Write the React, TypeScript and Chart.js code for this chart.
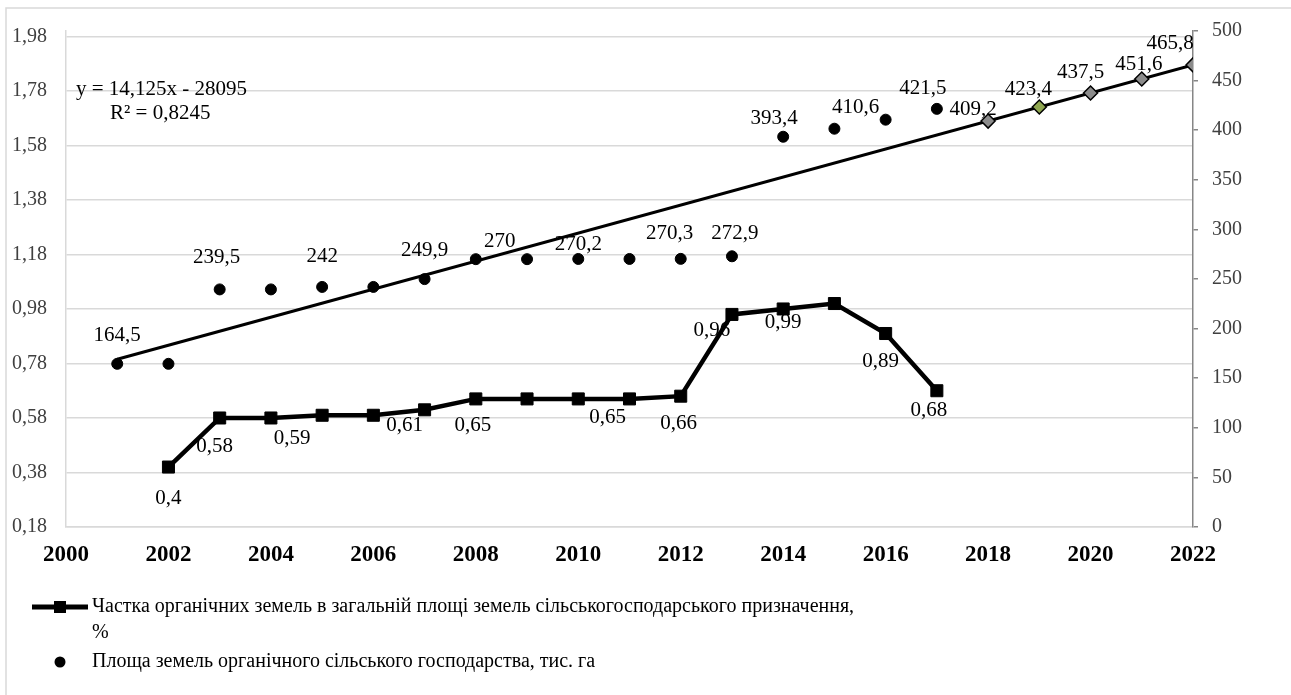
import React, { useEffect, useRef } from 'react';
import { Chart, registerables } from 'chart.js';

Chart.register(...registerables);

// ---------- data ----------
const shareYears = [2002, 2003, 2004, 2005, 2006, 2007, 2008, 2009, 2010, 2011, 2012, 2013, 2014, 2015, 2016, 2017];
const shareValues = [0.4, 0.58, 0.58, 0.59, 0.59, 0.61, 0.65, 0.65, 0.65, 0.65, 0.66, 0.96, 0.98, 1.0, 0.89, 0.68];
const shareLabels = ['0,4', '0,58', null, '0,59', null, '0,61', '0,65', null, null, '0,65', '0,66', '0,96', '0,99', null, '0,89', '0,68'];

const areaYears = [2001, 2002, 2003, 2004, 2005, 2006, 2007, 2008, 2009, 2010, 2011, 2012, 2013, 2014, 2015, 2016, 2017];
const areaValues = [164.5, 164.5, 239.5, 239.5, 242, 242, 249.9, 270, 270, 270.2, 270.2, 270.3, 272.9, 393.4, 401.5, 410.6, 421.5];
const areaLabels = ['164,5', null, '239,5', null, '242', null, '249,9', '270', null, '270,2', null, '270,3', '272,9', '393,4', null, '410,6', '421,5'];

const forecastYears = [2018, 2019, 2020, 2021, 2022];
const forecastValues = [409.2, 423.4, 437.5, 451.6, 465.8];
const forecastLabels = ['409,2', '423,4', '437,5', '451,6', '465,8'];

const trendYears = [2001, 2022];
const trendValues = [169.1, 465.8];

const leftTicks = [0.18, 0.38, 0.58, 0.78, 0.98, 1.18, 1.38, 1.58, 1.78, 1.98];
const yearTicks = [2000, 2002, 2004, 2006, 2008, 2010, 2012, 2014, 2016, 2018, 2020, 2022];

const trendEquation = 'y = 14,125x - 28095';
const trendR2 = 'R² = 0,8245';
const legendShare = 'Частка органічних земель в загальній площі земель сільськогосподарського призначення,';
const legendShareTail = '%';
const legendArea = 'Площа земель органічного сільського господарства, тис. га';

// ---------- styles / label placement ----------
const FONT = "'Liberation Serif', 'Times New Roman', serif";
const shareLabelOffsets: [number, number][] = [
  [0, 31], [-5, 28], [0, 0], [-30, 23], [0, 0], [-20, 16], [-3, 27], [0, 0], [0, 0],
  [-22, 19], [-2, 27], [-20, 16], [0, 14], [0, 0], [-5, 28], [-8, 20],
];
const areaLabelOffsets: [number, number][] = [
  [0, -28], [0, 0], [-3, -32], [0, 0], [0, -30], [0, 0], [0, -29], [24, -18], [0, 0],
  [0, -14], [0, 0], [-11, -25], [3, -23], [-9, -18], [0, 0], [-30, -12], [-14, -20],
];
const forecastLabelOffsets: [number, number][] = [[-15, -12], [-11, -18], [-10, -21], [-3, -15], [-23, -21]];
const forecastColors = ['#8c8c8c', '#8fa650', '#8c8c8c', '#8c8c8c', '#8c8c8c'];

const fmt2 = (v: number) => v.toFixed(2).replace('.', ',');

const labelsPlugin = {
  id: 'customLabels',
  beforeDatasetsDraw(chart: any) {
    const ctx = chart.ctx;
    ctx.save();
    ctx.font = `21px ${FONT}`;
    ctx.fillStyle = '#000';
    ctx.textAlign = 'center';
    ctx.textBaseline = 'middle';
    const meta = chart.getDatasetMeta(1);
    meta.data.forEach((el: any, i: number) => {
      const t = shareLabels[i];
      if (!t) return;
      const [dx, dy] = shareLabelOffsets[i];
      ctx.fillText(t, el.x + dx, el.y + dy);
    });
    ctx.restore();
  },
  afterDatasetsDraw(chart: any) {
    const ctx = chart.ctx;
    ctx.save();
    ctx.font = `21px ${FONT}`;
    ctx.fillStyle = '#000';
    ctx.textAlign = 'center';
    ctx.textBaseline = 'middle';
    chart.getDatasetMeta(2).data.forEach((el: any, i: number) => {
      const t = areaLabels[i];
      if (!t) return;
      const [dx, dy] = areaLabelOffsets[i];
      ctx.fillText(t, el.x + dx, el.y + dy);
    });
    chart.getDatasetMeta(0).data.forEach((el: any, i: number) => {
      const t = forecastLabels[i];
      if (!t) return;
      const [dx, dy] = forecastLabelOffsets[i];
      ctx.fillText(t, el.x + dx, el.y + dy);
    });
    ctx.restore();
  },
  afterDraw(chart: any) {
    const ctx = chart.ctx;
    ctx.save();
    // outer frame
    ctx.strokeStyle = '#d9d9d9';
    ctx.lineWidth = 1.5;
    ctx.beginPath();
    ctx.moveTo(6, 695);
    ctx.lineTo(6, 8);
    ctx.lineTo(1291, 8);
    ctx.stroke();

    // trend equation
    ctx.fillStyle = '#000';
    ctx.font = `21px ${FONT}`;
    ctx.textAlign = 'left';
    ctx.textBaseline = 'middle';
    ctx.fillText(trendEquation, 76, 89);
    ctx.fillText(trendR2, 110, 113);

    // legend
    ctx.font = `20px ${FONT}`;
    ctx.strokeStyle = '#000';
    ctx.lineWidth = 5;
    ctx.beginPath();
    ctx.moveTo(32, 607);
    ctx.lineTo(88, 607);
    ctx.stroke();
    ctx.fillRect(54, 601, 12, 12);
    ctx.fillText(legendShare, 92, 607);
    ctx.fillText(legendShareTail, 92, 633);
    ctx.beginPath();
    ctx.arc(60, 662, 5.5, 0, Math.PI * 2);
    ctx.fill();
    ctx.fillText(legendArea, 92, 662);
    ctx.restore();
  },
};

export default function App() {
  const ref = useRef<HTMLCanvasElement | null>(null);

  useEffect(() => {
    if (!ref.current) return;
    const chart = new Chart(ref.current, {
      type: 'line',
      data: {
        datasets: [
          {
            label: 'forecast',
            data: forecastYears.map((x, i) => ({ x, y: forecastValues[i] })),
            yAxisID: 'y2',
            showLine: false,
            pointStyle: 'rectRot',
            pointRadius: 7,
            pointBackgroundColor: forecastColors,
            pointBorderColor: '#000',
            pointBorderWidth: 1.5,
          },
          {
            label: legendShare,
            data: shareYears.map((x, i) => ({ x, y: shareValues[i] })),
            yAxisID: 'y',
            borderColor: '#000',
            borderWidth: 4.5,
            pointStyle: 'rect',
            pointRadius: 8.5,
            pointBackgroundColor: '#000',
            pointBorderColor: '#000',
            pointBorderWidth: 1,
            tension: 0,
          },
          {
            label: legendArea,
            data: areaYears.map((x, i) => ({ x, y: areaValues[i] })),
            yAxisID: 'y2',
            showLine: false,
            pointStyle: 'circle',
            pointRadius: 5.5,
            pointBackgroundColor: '#000',
            pointBorderColor: '#000',
          },
          {
            label: 'trend',
            data: trendYears.map((x, i) => ({ x, y: trendValues[i] })),
            yAxisID: 'y2',
            borderColor: '#000',
            borderWidth: 3,
            pointRadius: 0,
          },
        ],
      },
      options: {
        animation: false,
        responsive: false,
        devicePixelRatio: 1,
        layout: { padding: { top: 21, left: 0, right: 0, bottom: 0 } },
        plugins: { legend: { display: false }, tooltip: { enabled: false } },
        scales: {
          x: {
            type: 'linear',
            min: 2000,
            max: 2022,
            afterBuildTicks: (s: any) => {
              s.ticks = yearTicks.map((v) => ({ value: v }));
            },
            afterFit: (s: any) => {
              s.height = 168;
            },
            ticks: {
              callback: (v: any) => String(v),
              font: { family: FONT, size: 23, weight: 'bold' },
              color: '#000',
              padding: 14,
              maxRotation: 0,
              autoSkip: false,
            },
            grid: { display: false, drawTicks: false },
            border: { color: '#d9d9d9', width: 1.5 },
          },
          y: {
            position: 'left',
            min: 0.18,
            max: 2.0,
            afterBuildTicks: (s: any) => {
              s.ticks = leftTicks.map((v) => ({ value: v }));
            },
            afterFit: (s: any) => {
              s.width = 66;
            },
            ticks: {
              callback: (v: any) => fmt2(Number(v)),
              font: { family: FONT, size: 20 },
              color: '#404040',
              padding: 19,
            },
            grid: { color: '#d9d9d9', lineWidth: 1.5, drawTicks: false },
            border: { color: '#d9d9d9', width: 1.5 },
          },
          y2: {
            position: 'right',
            min: 0,
            max: 500,
            afterFit: (s: any) => {
              s.width = 98;
            },
            ticks: {
              stepSize: 50,
              callback: (v: any) => String(v),
              font: { family: FONT, size: 20 },
              color: '#404040',
              padding: 14,
            },
            grid: { drawOnChartArea: false, drawTicks: true, tickLength: 5, color: '#868686', lineWidth: 1.5 },
            border: { color: '#868686', width: 1.5 },
          },
        },
      },
      plugins: [labelsPlugin],
    } as any);
    return () => chart.destroy();
  }, []);

  return (
    <div style={{ position: 'absolute', left: 0, top: 0, width: 1291, height: 695, background: '#fff' }}>
      <canvas ref={ref} width={1291} height={695} style={{ display: 'block', width: 1291, height: 695 }} />
    </div>
  );
}
